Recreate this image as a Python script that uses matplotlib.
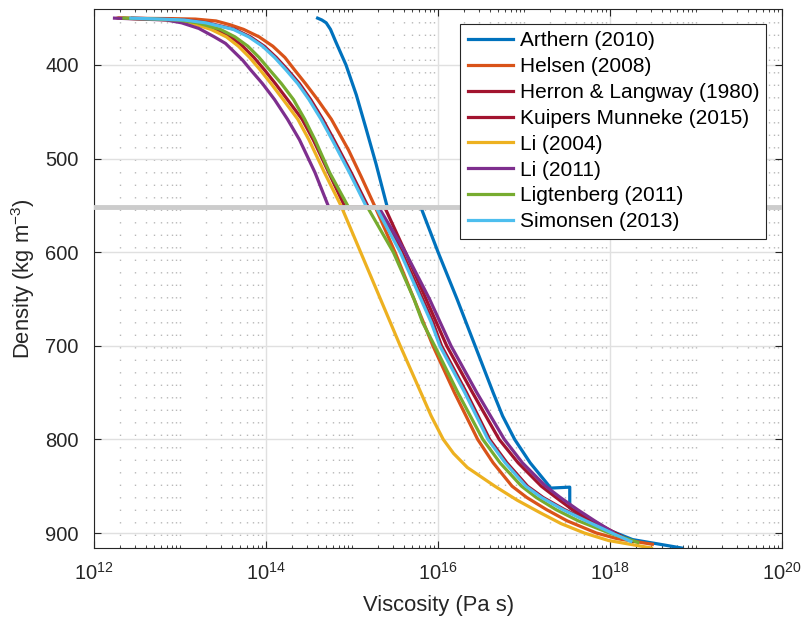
import numpy as np
import matplotlib
matplotlib.use("Agg")
import matplotlib.pyplot as plt
from matplotlib.ticker import LogLocator, NullFormatter

plt.rcParams['font.family'] = ['Liberation Sans', 'DejaVu Sans']
plt.rcParams['mathtext.default'] = 'regular'

# density (kg m^-3) and log10 viscosity (Pa s) along each firn profile
rho_arthern = [350, 352, 355, 362, 375, 400, 432, 467, 506, 552,
               552, 600, 650, 700, 750, 775, 800, 825, 852, 851, 873, 885, 893, 907, 916]
lv_arthern = [14.60, 14.65, 14.70, 14.75, 14.81, 14.93, 15.05, 15.16, 15.28, 15.41,
              15.80, 16.00, 16.22, 16.43, 16.64, 16.75, 16.89, 17.07, 17.31, 17.53, 17.53, 17.72, 17.88, 18.26, 18.83]

rho_helsen = [350, 350.5, 351, 353, 357, 362, 370, 380, 392, 405, 420, 437, 458, 491, 520, 552,
              600, 650, 700, 750, 800, 825, 850, 862, 875, 887, 900, 906, 912]
lv_helsen = [12.29, 12.90, 13.18, 13.42, 13.58, 13.74, 13.92, 14.08, 14.22, 14.33, 14.46, 14.60, 14.76, 14.96, 15.11, 15.27,
             15.50, 15.72, 15.94, 16.19, 16.46, 16.64, 16.86, 17.03, 17.26, 17.50, 17.84, 18.08, 18.49]

rho_herron = [350, 351, 352, 355, 362, 370, 380, 392, 405, 420, 437, 458, 480, 515, 552,
              552, 600, 650, 675, 700, 750, 800, 825, 850, 862, 875, 887, 900, 909]
lv_herron = [12.45, 12.80, 13.07, 13.32, 13.64, 13.82, 13.98, 14.12, 14.25, 14.39, 14.52, 14.66, 14.79, 14.99, 15.19,
             15.30, 15.58, 15.82, 15.94, 16.04, 16.33, 16.60, 16.80, 17.04, 17.22, 17.47, 17.74, 18.04, 18.26]

rho_kuipers = [350, 351, 352, 355, 362, 370, 380, 392, 405, 420, 437, 458, 480, 515, 552,
               552, 600, 650, 700, 750, 800, 825, 850, 862, 875, 887, 903]
lv_kuipers = [12.30, 12.67, 12.95, 13.17, 13.41, 13.59, 13.73, 13.86, 13.98, 14.11, 14.25, 14.42, 14.55, 14.73, 14.92,
              15.38, 15.62, 15.86, 16.10, 16.40, 16.71, 16.93, 17.20, 17.37, 17.56, 17.80, 18.12]

rho_li04 = [350, 351, 352, 355, 362, 370, 380, 392, 405, 420, 437, 458, 480, 515, 550,
            600, 650, 700, 750, 775, 800, 815, 830, 850, 865, 878, 890, 900, 908, 916]
lv_li04 = [12.28, 12.62, 12.90, 13.12, 13.36, 13.54, 13.68, 13.81, 13.93, 14.06, 14.20, 14.37, 14.50, 14.68, 14.87,
           15.10, 15.33, 15.56, 15.80, 15.92, 16.06, 16.18, 16.34, 16.66, 16.92, 17.18, 17.43, 17.70, 17.98, 18.48]

rho_li11 = [350, 351, 352, 355, 361, 370, 377, 395, 405, 420, 437, 458, 480, 515, 552,
            552, 600, 650, 700, 750, 800, 825, 850, 862, 875, 887, 899]
lv_li11 = [12.24, 12.55, 12.84, 13.02, 13.22, 13.40, 13.53, 13.73, 13.82, 13.96, 14.10, 14.25, 14.39, 14.57, 14.73,
           15.31, 15.62, 15.90, 16.15, 16.45, 16.77, 16.98, 17.25, 17.42, 17.62, 17.82, 18.03]

rho_ligt = [350, 351, 352, 355, 362, 370, 380, 392, 405, 420, 437, 458, 480, 515, 552,
            552, 600, 650, 675, 700, 750, 800, 825, 850, 862, 875, 887, 900, 910]
lv_ligt = [12.35, 12.70, 12.98, 13.20, 13.47, 13.64, 13.79, 13.92, 14.04, 14.18, 14.32, 14.45, 14.57, 14.74, 14.96,
           15.18, 15.48, 15.72, 15.82, 15.96, 16.23, 16.52, 16.72, 16.97, 17.14, 17.37, 17.63, 17.99, 18.32]

rho_simonsen = [350, 351, 352, 355, 362, 370, 380, 392, 405, 420, 437, 458, 480, 515, 552,
                552, 600, 650, 675, 700, 750, 800, 825, 850, 862, 875, 887, 900, 909]
lv_simonsen = [12.43, 12.78, 13.05, 13.30, 13.62, 13.80, 13.96, 14.10, 14.23, 14.37, 14.50, 14.64, 14.77, 14.97, 15.17,
               15.28, 15.56, 15.80, 15.92, 16.02, 16.31, 16.58, 16.78, 17.02, 17.20, 17.45, 17.72, 18.02, 18.24]

rho_crit = 552

curves = [
    ('Arthern (2010)', rho_arthern, lv_arthern, '#0072BD'),
    ('Helsen (2008)', rho_helsen, lv_helsen, '#D95319'),
    ('Herron & Langway (1980)', rho_herron, lv_herron, '#A2142F'),
    ('Kuipers Munneke (2015)', rho_kuipers, lv_kuipers, '#A2142F'),
    ('Li (2004)', rho_li04, lv_li04, '#EDB120'),
    ('Li (2011)', rho_li11, lv_li11, '#7E2F8E'),
    ('Ligtenberg (2011)', rho_ligt, lv_ligt, '#77AC30'),
    ('Simonsen (2013)', rho_simonsen, lv_simonsen, '#4DBEEE'),
]

fig = plt.figure(figsize=(8.09, 6.27), dpi=100)
ax = fig.add_axes([0.116, 0.126, 0.851, 0.86])

for name, rho, lv, col in curves:
    ax.plot(10.0 ** np.array(lv), rho, color=col, lw=2.3, label=name,
            solid_joinstyle='round')

# critical density line drawn over the profiles
ax.axhline(rho_crit, color='#cccccc', lw=3.5, zorder=5)

ax.set_xscale('log')
ax.set_xlim(1e12, 1e20)
ax.set_ylim(916, 340)
ax.set_xticks([1e12, 1e14, 1e16, 1e18, 1e20])
ax.xaxis.set_minor_locator(LogLocator(base=10, subs=np.arange(1, 10), numticks=100))
ax.xaxis.set_minor_formatter(NullFormatter())
ax.set_yticks([400, 500, 600, 700, 800, 900])

tc = '#262626'
ax.grid(True, which='major', color='#e0e0e0', lw=1.0)
ax.grid(True, which='minor', axis='x', color='#b8b8b8', lw=1.0, ls=(0, (1, 8)))
ax.set_axisbelow(True)
ax.tick_params(which='both', direction='in', top=True, right=True, colors=tc, labelsize=14.5)
ax.tick_params(axis='y', which='major', length=5, width=0.8, pad=11)
ax.tick_params(axis='x', which='major', length=5, width=0.8, pad=10)
ax.tick_params(which='minor', length=2.5, width=0.6)
for s in ax.spines.values():
    s.set_color(tc)
    s.set_linewidth(0.8)

ax.set_xlabel('Viscosity (Pa s)', fontsize=15.8, color=tc, labelpad=8)
ax.set_ylabel('Density (kg m$^{-3}$)', fontsize=15.8, color=tc, labelpad=6)

leg = ax.legend(loc='upper right', bbox_to_anchor=(0.977, 0.972), borderaxespad=0,
                fontsize=15, frameon=True, fancybox=False, framealpha=1,
                edgecolor='#262626', handlelength=2.2, labelspacing=0.33,
                handletextpad=0.3, borderpad=0.35)
leg.get_frame().set_linewidth(0.8)
leg.set_zorder(10)

fig.savefig('out.png', dpi=100)
